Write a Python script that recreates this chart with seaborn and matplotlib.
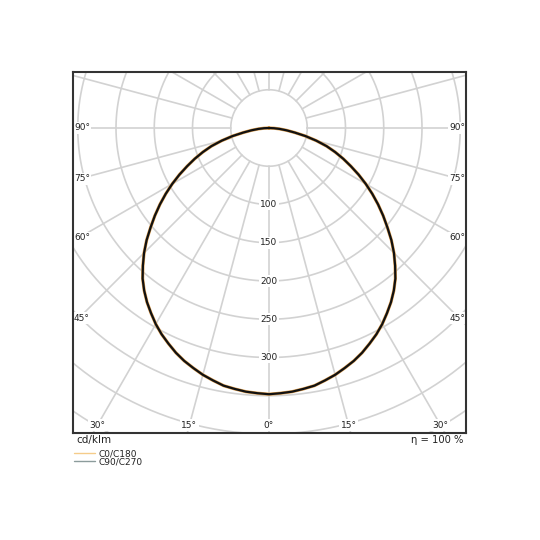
import numpy as np
import pandas as pd
import matplotlib
matplotlib.use('Agg')
import matplotlib.pyplot as plt
from matplotlib.lines import Line2D
import seaborn as sns

gamma = [0, 2.5, 5, 7.5, 10, 12.5, 15, 17.5, 20, 22.5, 25, 27.5, 30, 32.5, 35, 37.5, 40, 42.5,
         45, 47.5, 50, 52.5, 55, 57.5, 60, 62.5, 65, 67.5, 70, 72.5, 75, 77.5, 80, 82.5, 85, 87.5, 90]
c0_c180 = [348, 347, 346, 344, 342, 338, 334, 329, 324, 318, 311, 304, 296, 287, 278, 268, 257, 244,
           231, 217, 202, 188, 174, 160, 146, 132, 118, 105, 92, 79, 64, 49, 34, 23, 14, 6.5, 0]
c90_c270 = [348, 347, 346, 344, 342, 338, 334, 329, 324, 318, 311, 304, 296, 287, 278, 268, 257, 244,
            231, 217, 202, 188, 174, 160, 146, 132, 118, 105, 92, 79, 64, 49, 34, 23, 14, 6.5, 0]

rings = [50, 100, 150, 200, 250, 300, 350, 400, 450, 500]
ring_labels = [100, 150, 200, 250, 300]
angle_labels = [0, 15, 30, 45, 60, 75, 90]
eta = 100

cor_c0 = '#f5cc8a'
cor_c90 = '#8c9c9c'


def curva(valores, plano):
    # espelhar: lado esquerdo (C180/C270) e lado direito (C0/C90)
    g = np.array(gamma[::-1] + gamma[1:], dtype=float)
    sinal = np.array([-1] * len(gamma) + [1] * (len(gamma) - 1))
    i = np.array(valores[::-1] + valores[1:], dtype=float)
    rad = np.radians(g)
    return pd.DataFrame({'x': sinal * i * np.sin(rad), 'y': -i * np.cos(rad), 'plano': plano})


df0 = curva(c0_c180, 'C0/C180')
df90 = curva(c90_c270, 'C90/C270')

sns.set_style('white')
plt.rcParams['font.family'] = ['DejaVu Sans']

fig = plt.figure(figsize=(5.4, 5.4), dpi=100)
ax = fig.add_axes([73 / 540, 107 / 540, 393 / 540, 361 / 540])
k = 0.765  # px por cd/klm
ax.set_xlim(-196 / k, 197 / k)
ax.set_ylim(-305 / k, 56 / k)

grid_kw = dict(color='#d2d2d2', lw=1.2, zorder=1)
t = np.linspace(0, 2 * np.pi, 400)
for r in rings:
    ax.plot(r * np.cos(t), r * np.sin(t), **grid_kw)
for a in range(0, 360, 15):
    ar = np.radians(a)
    ax.plot([50 * np.cos(ar), 700 * np.cos(ar)], [50 * np.sin(ar), 700 * np.sin(ar)], **grid_kw)

caixa = dict(boxstyle='square,pad=0.15', fc='white', ec='none')
for v in ring_labels:
    ax.text(0, -v, str(v), ha='center', va='center', fontsize=6.5, color='#222222',
            bbox=caixa, zorder=3)

y_base = -297 / k
x_lado = 190 / k
for a in angle_labels:
    txt = f'{a}°'
    if a <= 30:
        for s in ([1] if a == 0 else [-1, 1]):
            ax.text(s * (-y_base) * np.tan(np.radians(a)), y_base, txt, ha='center', va='center',
                    fontsize=6.5, color='#222222', bbox=caixa, zorder=3)
    else:
        yy = -x_lado / np.tan(np.radians(a)) if a < 90 else 0
        ax.text(-195 / k, yy, txt, ha='left', va='center', fontsize=6.5, color='#222222',
                bbox=caixa, zorder=3)
        ax.text(196 / k, yy, txt, ha='right', va='center', fontsize=6.5, color='#222222',
                bbox=caixa, zorder=3)

sns.lineplot(data=df0, x='x', y='y', sort=False, estimator=None, color='#e0a050', lw=2.3,
             legend=False, ax=ax, zorder=4)
sns.lineplot(data=df90, x='x', y='y', sort=False, estimator=None, color='#111111', lw=1.6,
             legend=False, ax=ax, zorder=5)

ax.set_xticks([])
ax.set_yticks([])
ax.set_xlabel('')
ax.set_ylabel('')
for sp in ax.spines.values():
    sp.set_color('#333333')
    sp.set_linewidth(1.5)
    sp.set_zorder(10)

fig.text(76 / 540, 1 - 440 / 540, 'cd/klm', ha='left', va='center', fontsize=7.5, color='#222222')
fig.text(463 / 540, 1 - 440 / 540, f'η = {eta} %', ha='right', va='center', fontsize=7.2,
         color='#222222')

handles = [Line2D([], [], color=cor_c0, lw=1), Line2D([], [], color=cor_c90, lw=1)]
fig.legend(handles, ['C0/C180', 'C90/C270'], loc='upper left',
           bbox_to_anchor=(68 / 540, 1 - 443 / 540), frameon=False, fontsize=6.5,
           handlelength=2.3, handletextpad=0.4, labelspacing=-0.1, borderpad=0.2,
           labelcolor='#222222')

fig.savefig('out.png', dpi=100)
